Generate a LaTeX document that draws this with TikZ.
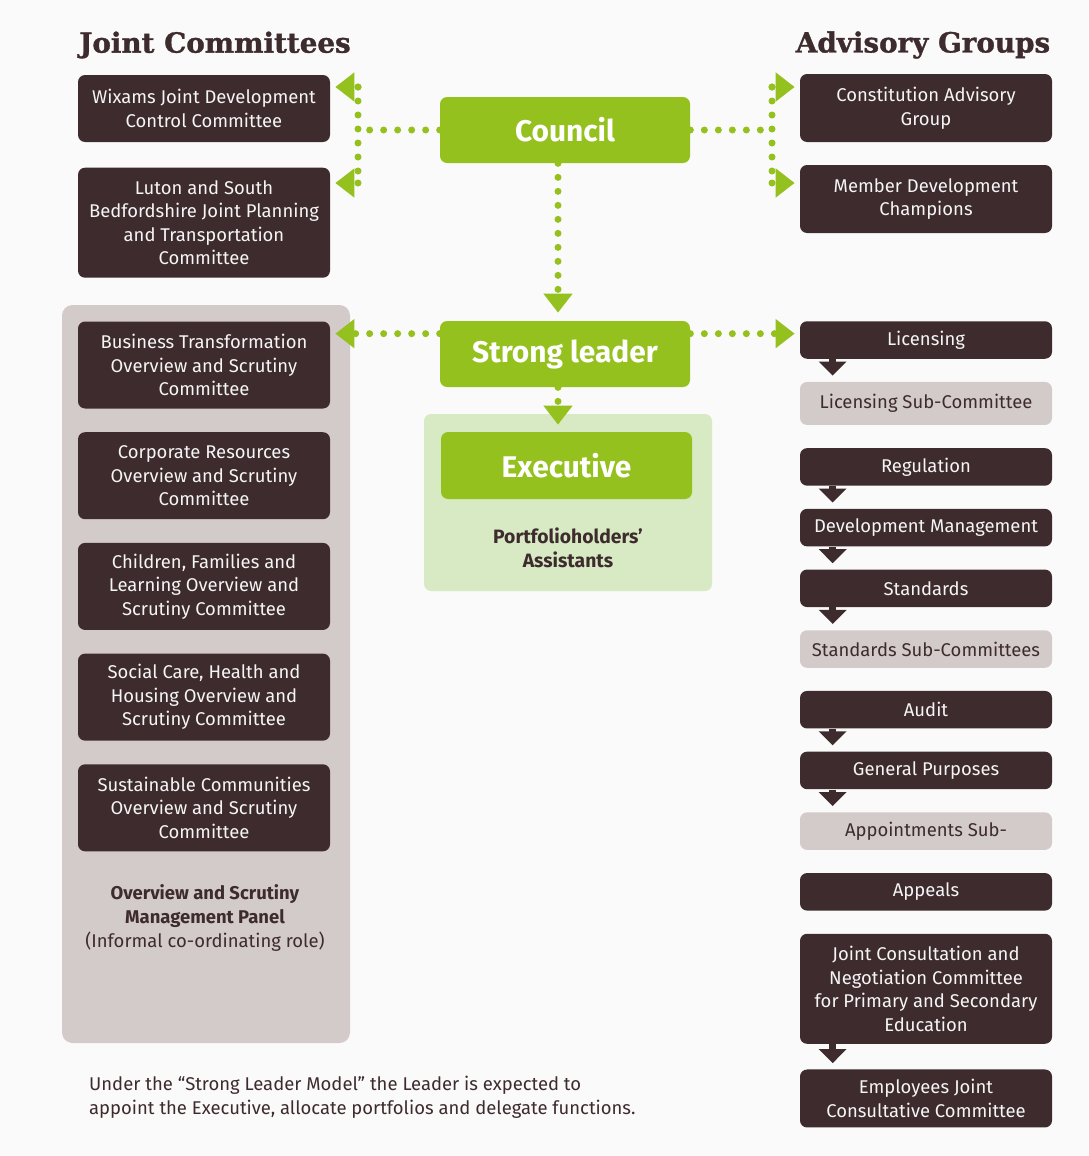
\documentclass[tikz,border=0pt]{standalone}
\usepackage{fontspec}
\setmainfont{Fira Sans}
\newfontfamily\headfont[BoldFeatures={FakeBold=1.2}]{DejaVu Serif}
\usetikzlibrary{positioning, arrows.meta}
\definecolor{leafgreen}{HTML}{95C11F}
\definecolor{darkbrown}{HTML}{3D2B2D}
\definecolor{panelgray}{HTML}{D3CBC9}
\definecolor{panelgreen}{HTML}{D7EAC4}

\begin{document}
\begin{tikzpicture}[node distance = 0.45cm, align=center,
    font=\fontsize{10.5}{13.4}\selectfont,
    title/.style={text=darkbrown, font=\headfont\bfseries\fontsize{15.8}{18}\selectfont},
    dbox/.style={fill=darkbrown, text=white!96!black, rounded corners=4pt, minimum width=5.04cm, minimum height=0.75cm, inner sep=2pt},
    gbox/.style={dbox, fill=panelgray, text=darkbrown},
    keybox/.style={fill=leafgreen, text=white, rounded corners=4pt, minimum width=5cm, minimum height=1.32cm, font=\bfseries\fontsize{17}{20}\selectfont},
    dots/.style={draw=leafgreen, line width=0.14cm, line cap=round, dash pattern=on 0pt off 0.28cm},
    garrow/.style={dots, -{Triangle[width=0.56cm, length=0.38cm]}},
    darrow/.style={draw=darkbrown, line width=0.14cm, shorten >= 0.12cm, -{Triangle[width=0.54cm, length=0.28cm]}}]

    \fill[white!98!black] (0,0) rectangle (21.76,-23.12);
    \useasboundingbox (0,0) rectangle (21.76,-23.12);

    \node[title] (jctitle) at (4.3,-0.9)   {Joint Committees};
    \node[title] (agtitle) at (18.46,-0.9) {Advisory Groups};

    %parte sinistra
    \node[dbox, minimum height=1.34cm] (wixams) at (4.08,-2.17)  {Wixams Joint Development\\Control Committee};
    \node[dbox, minimum height=2.2cm]  (luton)  [below=0.5cm of wixams] {Luton and South\\Bedfordshire Joint Planning\\and Transportation\\Committee};

    \node[fill=panelgray, rounded corners=6pt, minimum width=5.76cm, minimum height=14.76cm] (ospanel) at (4.12,-13.48) {};
    \node[dbox, minimum height=1.74cm] (bt) at (4.08,-7.3)        {Business Transformation\\Overview and Scrutiny\\Committee};
    \node[dbox, minimum height=1.74cm] (cr) [below=0.46cm of bt]  {Corporate Resources\\Overview and Scrutiny\\Committee};
    \node[dbox, minimum height=1.74cm] (cf) [below=0.46cm of cr]  {Children, Families and\\Learning Overview and\\Scrutiny Committee};
    \node[dbox, minimum height=1.74cm] (sc) [below=0.46cm of cf]  {Social Care, Health and\\Housing Overview and\\Scrutiny Committee};
    \node[dbox, minimum height=1.74cm] (su) [below=0.46cm of sc]  {Sustainable Communities\\Overview and Scrutiny\\Committee};
    \node[text=darkbrown] (mptext) at (4.1,-18.36) {\textbf{Overview and Scrutiny}\\\textbf{Management Panel}\\(Informal co-ordinating role)};

    %centro
    \node[keybox] (council) at (11.3,-2.6)  {Council};
    \node[keybox] (leader)  at (11.3,-7.08) {Strong leader};
    \node[fill=panelgreen, rounded corners=4pt, minimum width=5.76cm, minimum height=3.54cm] (exepanel) at (11.36,-10.05) {};
    \node[keybox, minimum width=5.02cm, minimum height=1.34cm] (executive) at (11.33,-9.31) {Executive};
    \node[text=darkbrown, font=\bfseries\fontsize{11}{14}\selectfont] (assistants) at (11.36,-10.96) {Portfolioholders’\\Assistants};

    %parte a destra
    \node[dbox, minimum height=1.36cm] (constitution) at (18.52,-2.16) {Constitution Advisory\\Group};
    \node[dbox, minimum height=1.36cm] (memberdev)    at (18.52,-3.98) {Member Development\\Champions};
    \node[dbox] (licensing)    at (18.52,-6.8)           {Licensing};
    \node[gbox, minimum height=0.86cm] (licsub) [below=of licensing] {Licensing Sub-Committee};
    \node[dbox] (regulation)   [below=of licsub]         {Regulation};
    \node[dbox] (devmgmt)      [below=of regulation]     {Development Management};
    \node[dbox] (standards)    [below=of devmgmt]        {Standards};
    \node[gbox] (stdsub)       [below=of standards]      {Standards Sub-Committees};
    \node[dbox] (audit)        [below=of stdsub]         {Audit};
    \node[dbox] (genpurposes)  [below=of audit]          {General Purposes};
    \node[gbox] (appointments) [below=of genpurposes]    {Appointments Sub-};
    \node[dbox] (appeals)      [below=of appointments]   {Appeals};
    \node[dbox, minimum height=2.2cm]  (jcnc)      [below=of appeals] {Joint Consultation and\\Negotiation Committee\\for Primary and Secondary\\Education};
    \node[dbox, minimum height=1.16cm] (employees) [below=0.5cm of jcnc] {Employees Joint\\Consultative Committee};

    \node[text=darkbrown, align=left, anchor=north west] (note) at (1.66,-21.4) {Under the “Strong Leader Model” the Leader is expected to\\appoint the Executive, allocate portfolios and delegate functions.};

    %frecce verdi
    \coordinate (jtop) at (7.16,-1.74);
    \coordinate (jbot) at (7.16,-3.66);
    \coordinate (atop) at (15.44,-1.74);
    \coordinate (abot) at (15.44,-3.66);
    \draw[dots] (council.west) -- (council.west -| jtop);
    \draw[dots] (jtop) -- (jbot);
    \draw[dots] (council.east) -- (council.east -| atop);
    \draw[dots] (atop) -- (abot);
    \draw[garrow, shorten >= 0.1cm] (jtop) -- (jtop -| wixams.east);
    \draw[garrow, shorten >= 0.1cm] (jbot) -- (jbot -| luton.east);
    \draw[garrow, shorten >= 0.1cm] (atop) -- (atop -| constitution.west);
    \draw[garrow, shorten >= 0.1cm] (abot) -- (abot -| memberdev.west);
    \draw[garrow, shorten >= 0.16cm] ([xshift=-0.14cm]council.south) -- ([xshift=-0.14cm]leader.north);
    \draw[garrow, shorten >= 0.1cm] ([yshift=-0.26cm]leader.north west) -- ([yshift=-0.26cm]leader.north west -| bt.east);
    \draw[garrow, shorten >= 0.1cm] ([yshift=-0.26cm]leader.north east) -- ([yshift=-0.26cm]leader.north east -| licensing.west);
    \draw[garrow, shorten >= 0.14cm] ([xshift=-0.14cm]leader.south) -- ([xshift=-0.14cm]leader.south |- executive.north);

    %frecce scure
    \path[every edge/.append style={darrow}]
                  ([xshift=0.66cm]licensing.south west)   edge ([xshift=0.66cm]licsub.north west)
                  ([xshift=0.66cm]regulation.south west)  edge ([xshift=0.66cm]devmgmt.north west)
                  ([xshift=0.66cm]devmgmt.south west)     edge ([xshift=0.66cm]standards.north west)
                  ([xshift=0.66cm]standards.south west)   edge ([xshift=0.66cm]stdsub.north west)
                  ([xshift=0.66cm]audit.south west)       edge ([xshift=0.66cm]genpurposes.north west)
                  ([xshift=0.66cm]genpurposes.south west) edge ([xshift=0.66cm]appointments.north west)
                  ([xshift=0.66cm]jcnc.south west)        edge ([xshift=0.66cm]employees.north west);
\end{tikzpicture}
\end{document}
